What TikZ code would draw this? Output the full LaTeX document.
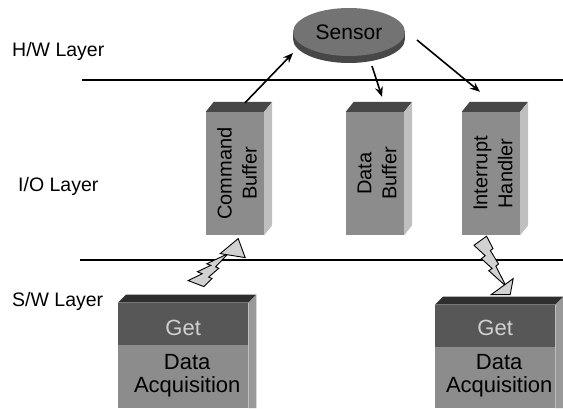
\documentclass[tikz,border=0pt]{standalone}
\usepackage{fontspec}
\setmainfont{Liberation Sans}
\usetikzlibrary{shapes.geometric,arrows.meta,calc}
\begin{document}
\begin{tikzpicture}[x=1pt,y=1pt,
  front/.style={rectangle,inner sep=0,fill=black!45},
  sidef/.style={fill=black!25},
  topf/.style={fill=black!72},
  lbl/.style={font=\fontsize{19.5}{22}\selectfont,anchor=west,inner sep=0},
  btxt/.style={font=\fontsize{20}{25}\selectfont,rotate=90,align=center,inner sep=0},
  gtxt/.style={font=\fontsize{22}{23}\selectfont,align=center,inner sep=0},
  conn/.style={-{Stealth[length=10pt,width=8pt]},line width=1.6pt},
  layer/.style={line width=1.2pt},
  bolt/.style={fill=black!18,draw=black,line width=0.9pt,line join=miter},
  boltshape/.pic={
    \filldraw[bolt] (0.392,0) -- (0,0.182) -- (0.350,0.390) -- (0.231,0.450) -- (0.565,0.644)
      -- (0.462,0.691) -- (1,1) -- (0.684,0.598) -- (0.767,0.556) -- (0.511,0.288)
      -- (0.594,0.247) -- cycle;
  }
]
\useasboundingbox (0,0) rectangle (563,408);

% layer separators
\coordinate (l1a) at (82,328); \coordinate (l1b) at (563,328);
\coordinate (l2a) at (80,148); \coordinate (l2b) at (563,148);
\draw[layer] (l1a) -- (l1b);
\draw[layer] (l2a) -- (l2b);

\node[lbl] (hw) at (12,357) {H/W Layer};
\node[lbl] (io) at (18,222) {I/O Layer};
\node[lbl] (sw) at (12,107) {S/W Layer};

% sensor disk
\fill[black!72] (349,369) ellipse [x radius=56,y radius=24];
\fill[black!72] (293,369) rectangle (405,376);
\node[ellipse,fill=black!55,minimum width=112,minimum height=48,inner sep=0,
      font=\fontsize{21}{24}\selectfont] (sensor) at (349,376) {Sensor};

% buffer boxes
\foreach \n/\cx/\t in {cmd/235/{Command\\Buffer},data/375/{Data\\Buffer},intr/491/{Interrupt\\Handler}}{
  \node[front,minimum width=58,minimum height=123] (\n) at (\cx,234.5) {};
  \fill[topf] (\n.north west) -- ++(8,10) -- ($(\n.north east)+(8,10)$) -- (\n.north east) -- cycle;
  \fill[sidef] (\n.north east) -- ++(8,10) -- ($(\n.south east)+(8,10)$) -- (\n.south east) -- cycle;
  \node[btxt] at ($(\n)+(2,0)$) {\t};
}

% bottom boxes
\node[front,minimum width=130,minimum height=105,anchor=south west] (getl) at (118,0) {};
\fill[black!66] (getl.north west) rectangle ($(getl.north east)+(0,-42)$);
\fill[black!82] (getl.north west) -- ++(8,8) -- ($(getl.north east)+(8,8)$) -- (getl.north east) -- cycle;
\fill[black!40] (getl.north east) -- ++(8,8) -- ($(getl.south east)+(8,0)$) -- (getl.south east) -- cycle;
\node[gtxt,text=black!18] at ($(getl.north)+(0,-25)$) {Get};
\node[gtxt] at ($(getl.south)+(4,32)$) {Data\\Acquisition};

\node[front,minimum width=120,minimum height=103,anchor=south west] (getr) at (435,0) {};
\fill[black!66] (getr.north west) rectangle ($(getr.north east)+(0,-42)$);
\fill[black!82] (getr.north west) -- ++(8,8) -- ($(getr.north east)+(8,8)$) -- (getr.north east) -- cycle;
\fill[black!40] (getr.north east) -- ++(8,8) -- ($(getr.south east)+(8,0)$) -- (getr.south east) -- cycle;
\node[gtxt,text=black!18] at ($(getr.north)+(0,-23)$) {Get};
\node[gtxt] at ($(getr.south)+(4,32)$) {Data\\Acquisition};

% connectors
\draw[conn] ($(cmd.north)+(10,9)$) -- ($(sensor.center)+(-56,-21)$);
\draw[conn] ($(sensor.center)+(23,-34)$) -- ($(data.north)+(7,15)$);
\draw[conn] ($(sensor.center)+(68,-8)$) -- ($(intr.north)+(-11,20)$);

% lightning bolts (Get -> Command Buffer, Interrupt Handler -> Get)
\pic[shift={($(getl.north)+(5,16)$)},xscale=40,yscale=33] {boltshape};
\filldraw[bolt] ($(getl.north)+(37,49)$) -- ($(getl.north)+(55,64)$) -- ($(getl.north)+(62,45)$) -- cycle;
\pic[shift={($(intr.south)+(-17,-1)$)},xscale=32,yscale=-50] {boltshape};
\filldraw[bolt] ($(getr.north)+(-4,10)$) -- ($(getr.north)+(18,26)$) -- ($(getr.north)+(15,10)$) -- cycle;
\end{tikzpicture}
\end{document}
